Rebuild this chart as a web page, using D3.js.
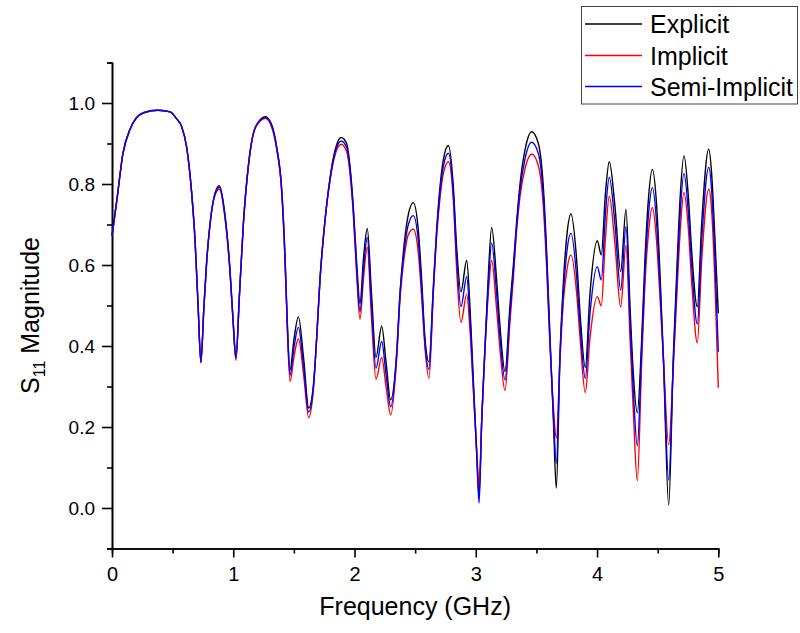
<!DOCTYPE html>
<html>
<head>
<meta charset="utf-8">
<script src="https://cdn.jsdelivr.net/npm/d3@7"></script>
<style>
  body { margin: 0; background: #fff; }
  text { font-family: "Liberation Sans", Arial, sans-serif; fill: #000; }
</style>
</head>
<body>
<script>
"use strict";
// frequency points (GHz)
const freq = [0.000, 0.040, 0.090, 0.150, 0.200, 0.260, 0.380, 0.480, 0.530, 0.575,
    0.615, 0.655, 0.685, 0.710, 0.733, 0.757, 0.780, 0.808, 0.850, 0.885,
    0.930, 0.973, 1.000, 1.022, 1.050, 1.083, 1.124, 1.166, 1.220, 1.265,
    1.317, 1.358, 1.400, 1.427, 1.446, 1.468, 1.500, 1.537, 1.580, 1.622,
    1.660, 1.688, 1.715, 1.757, 1.798, 1.840, 1.890, 1.935, 1.963, 1.990,
    2.018, 2.045, 2.075, 2.105, 2.140, 2.177, 2.224, 2.260, 2.298, 2.348,
    2.375, 2.402, 2.444, 2.485, 2.526, 2.554, 2.580, 2.614, 2.650, 2.677,
    2.705, 2.732, 2.774, 2.815, 2.842, 2.878, 2.925, 2.952, 2.980, 3.008,
    3.027, 3.049, 3.076, 3.103, 3.131, 3.172, 3.200, 3.241, 3.282, 3.310,
    3.338, 3.365, 3.406, 3.461, 3.516, 3.557, 3.585, 3.612, 3.640, 3.664,
    3.695, 3.722, 3.750, 3.785, 3.832, 3.860, 3.903, 3.942, 4.002, 4.035,
    4.070, 4.101, 4.148, 4.195, 4.239, 4.272, 4.299, 4.332, 4.368, 4.396,
    4.423, 4.456, 4.492, 4.519, 4.547, 4.591, 4.629, 4.657, 4.684, 4.717,
    4.753, 4.780, 4.827, 4.863, 4.921, 4.945, 4.973, 5.000]

const explicitVals = [0.672, 0.760, 0.875, 0.936, 0.963, 0.976, 0.982, 0.978, 0.962, 0.941,
    0.892, 0.785, 0.660, 0.500, 0.360, 0.490, 0.605, 0.700, 0.778, 0.796,
    0.728, 0.588, 0.457, 0.370, 0.520, 0.700, 0.843, 0.925, 0.958, 0.966,
    0.946, 0.892, 0.785, 0.620, 0.456, 0.341, 0.415, 0.472, 0.370, 0.247,
    0.300, 0.420, 0.563, 0.711, 0.815, 0.884, 0.915, 0.900, 0.843, 0.744,
    0.604, 0.505, 0.620, 0.690, 0.530, 0.372, 0.449, 0.360, 0.267, 0.385,
    0.530, 0.629, 0.725, 0.754, 0.686, 0.563, 0.423, 0.361, 0.546, 0.686,
    0.793, 0.859, 0.895, 0.793, 0.645, 0.534, 0.611, 0.497, 0.316, 0.135,
    0.030, 0.217, 0.398, 0.571, 0.693, 0.563, 0.448, 0.337, 0.500, 0.600,
    0.711, 0.800, 0.884, 0.929, 0.900, 0.793, 0.629, 0.423, 0.217, 0.049,
    0.382, 0.555, 0.670, 0.726, 0.612, 0.481, 0.347, 0.530, 0.660, 0.625,
    0.780, 0.855, 0.744, 0.584, 0.738, 0.497, 0.333, 0.235, 0.415, 0.620,
    0.760, 0.836, 0.744, 0.580, 0.374, 0.007, 0.374, 0.580, 0.760, 0.870,
    0.769, 0.637, 0.497, 0.703, 0.886, 0.826, 0.660, 0.481]

const implicitVals = [0.672, 0.760, 0.875, 0.936, 0.963, 0.976, 0.982, 0.978, 0.962, 0.941,
    0.892, 0.785, 0.660, 0.500, 0.358, 0.490, 0.605, 0.700, 0.773, 0.787,
    0.720, 0.582, 0.452, 0.365, 0.520, 0.700, 0.843, 0.925, 0.955, 0.962,
    0.940, 0.885, 0.778, 0.610, 0.440, 0.312, 0.372, 0.418, 0.330, 0.223,
    0.290, 0.420, 0.563, 0.711, 0.808, 0.872, 0.898, 0.880, 0.825, 0.725,
    0.575, 0.466, 0.570, 0.644, 0.470, 0.318, 0.372, 0.300, 0.230, 0.370,
    0.515, 0.600, 0.675, 0.689, 0.630, 0.520, 0.400, 0.320, 0.530, 0.670,
    0.765, 0.825, 0.855, 0.760, 0.590, 0.458, 0.528, 0.440, 0.290, 0.140,
    0.050, 0.215, 0.390, 0.530, 0.611, 0.490, 0.390, 0.290, 0.460, 0.570,
    0.690, 0.770, 0.838, 0.874, 0.845, 0.745, 0.590, 0.400, 0.250, 0.172,
    0.370, 0.510, 0.585, 0.625, 0.530, 0.420, 0.285, 0.420, 0.522, 0.499,
    0.670, 0.770, 0.650, 0.496, 0.649, 0.420, 0.240, 0.067, 0.360, 0.560,
    0.675, 0.742, 0.655, 0.520, 0.370, 0.156, 0.350, 0.520, 0.675, 0.779,
    0.690, 0.560, 0.408, 0.610, 0.787, 0.735, 0.550, 0.297]

const semiVals = [0.672, 0.760, 0.875, 0.936, 0.963, 0.976, 0.982, 0.978, 0.962, 0.941,
    0.892, 0.785, 0.660, 0.500, 0.360, 0.490, 0.605, 0.700, 0.776, 0.792,
    0.725, 0.586, 0.455, 0.370, 0.520, 0.700, 0.843, 0.925, 0.957, 0.964,
    0.944, 0.890, 0.782, 0.615, 0.450, 0.328, 0.395, 0.446, 0.350, 0.237,
    0.295, 0.420, 0.563, 0.711, 0.812, 0.878, 0.906, 0.890, 0.835, 0.735,
    0.590, 0.485, 0.595, 0.668, 0.500, 0.345, 0.411, 0.330, 0.250, 0.380,
    0.525, 0.615, 0.700, 0.722, 0.660, 0.540, 0.410, 0.342, 0.540, 0.680,
    0.780, 0.843, 0.876, 0.775, 0.620, 0.497, 0.571, 0.470, 0.300, 0.130,
    0.012, 0.215, 0.395, 0.550, 0.654, 0.530, 0.420, 0.316, 0.480, 0.585,
    0.700, 0.785, 0.862, 0.903, 0.875, 0.770, 0.610, 0.410, 0.230, 0.110,
    0.380, 0.530, 0.630, 0.678, 0.570, 0.450, 0.320, 0.480, 0.596, 0.563,
    0.730, 0.817, 0.700, 0.538, 0.695, 0.460, 0.290, 0.153, 0.390, 0.590,
    0.720, 0.791, 0.700, 0.550, 0.370, 0.069, 0.360, 0.550, 0.720, 0.826,
    0.730, 0.600, 0.454, 0.660, 0.841, 0.785, 0.610, 0.386]

const seriesNames = ["Explicit", "Implicit", "Semi-Implicit"]
const seriesColors = ["#000000", "#ff0000", "#0000ff"]
const xMajorTicks = [0, 1, 2, 3, 4, 5]
const xMinorTicks = [0.5, 1.5, 2.5, 3.5, 4.5]
const yMajorTicks = [0.0, 0.2, 0.4, 0.6, 0.8, 1.0]
const yMinorTicks = [-0.1, 0.1, 0.3, 0.5, 0.7, 0.9, 1.1]

;(function(){
    // page and plot box
    const measurements = {
        width: 800,
        height: 633,
        left: 112,
        right: 718.3,
        top: 62.5,
        bottom: 548.5
    }

    const svg = d3.select("body").append("svg")
        .attr("width", measurements.width)
        .attr("height", measurements.height)

    const scaleX = d3.scaleLinear()
        .domain([0, 5])
        .range([measurements.left, measurements.right])
    const scaleY = d3.scaleLinear()
        .domain([-0.1, 1.1])
        .range([measurements.bottom, measurements.top])

    drawAxes(scaleX, scaleY)
    drawLines(scaleX, scaleY)
    drawLegend()

    function styleAxis(g) {
        g.select(".domain").attr("stroke", "#000").attr("stroke-width", 1.6)
        g.selectAll(".tick line").attr("stroke", "#000").attr("stroke-width", 1.6)
    }

    function drawAxes(scaleX, scaleY) {
        const bottom = measurements.bottom
        const left = measurements.left

        // minor ticks first, majors on top
        svg.append("g")
            .attr("transform", `translate(0,${bottom})`)
            .call(d3.axisBottom(scaleX).tickValues(xMinorTicks).tickSize(5).tickFormat(""))
            .call(styleAxis)
        svg.append("g")
            .attr("transform", `translate(0,${bottom})`)
            .call(d3.axisBottom(scaleX).tickValues(xMajorTicks).tickSize(9).tickSizeOuter(0)
                .tickPadding(9).tickFormat(d3.format("d")))
            .call(styleAxis)
            .call(g => g.selectAll("text").attr("font-size", 20).attr("font-family", "Liberation Sans, Arial, sans-serif"))

        svg.append("g")
            .attr("transform", `translate(${left},0)`)
            .call(d3.axisLeft(scaleY).tickValues(yMinorTicks).tickSize(5).tickFormat(""))
            .call(styleAxis)
        svg.append("g")
            .attr("transform", `translate(${left},0)`)
            .call(d3.axisLeft(scaleY).tickValues(yMajorTicks).tickSize(10).tickSizeOuter(0)
                .tickPadding(7).tickFormat(d3.format(".1f")))
            .call(styleAxis)
            .call(g => g.selectAll("text").attr("font-size", 19).attr("font-family", "Liberation Sans, Arial, sans-serif"))

        // axis titles
        svg.append("text")
            .attr("x", (measurements.left + measurements.right) / 2)
            .attr("y", 615)
            .attr("text-anchor", "middle")
            .attr("font-size", 25)
            .text("Frequency (GHz)")

        const yTitle = svg.append("text")
            .attr("transform", `translate(39,${(measurements.top + measurements.bottom) / 2 + 10}) rotate(-90)`)
            .attr("text-anchor", "middle")
            .attr("font-size", 25)
        yTitle.append("tspan").text("S")
        yTitle.append("tspan").attr("font-size", 16).attr("dy", 6).text("11")
        yTitle.append("tspan").attr("dy", -6).text(" Magnitude")
    }

    function drawLines(scaleX, scaleY) {
        const allVals = [explicitVals, implicitVals, semiVals]
        const line = d3.line()
            .x(d => scaleX(d[0]))
            .y(d => scaleY(d[1]))
            .curve(d3.curveMonotoneX)

        allVals.forEach((vals, i) => {
            const pts = freq.map((f, j) => [f, vals[j]])
            svg.append("path")
                .datum(pts)
                .attr("fill", "none")
                .attr("stroke", seriesColors[i])
                .attr("stroke-width", 1.4)
                .attr("d", line)
        })
    }

    function drawLegend() {
        const box = { x: 581.5, y: 6.5, w: 216, h: 97.5 }
        const legend = svg.append("g")
        legend.append("rect")
            .attr("x", box.x).attr("y", box.y)
            .attr("width", box.w).attr("height", box.h)
            .attr("fill", "#fff")
            .attr("stroke", "#444")
            .attr("stroke-width", 1)

        const rowY = [24, 55.5, 86.5]
        seriesNames.forEach((name, i) => {
            legend.append("line")
                .attr("x1", 585).attr("x2", 642)
                .attr("y1", rowY[i]).attr("y2", rowY[i])
                .attr("stroke", seriesColors[i])
                .attr("stroke-width", 1.4)
            legend.append("text")
                .attr("x", 650)
                .attr("y", rowY[i] + 9)
                .attr("font-size", 25)
                .text(name)
        })
    }
})()
</script>
</body>
</html>
